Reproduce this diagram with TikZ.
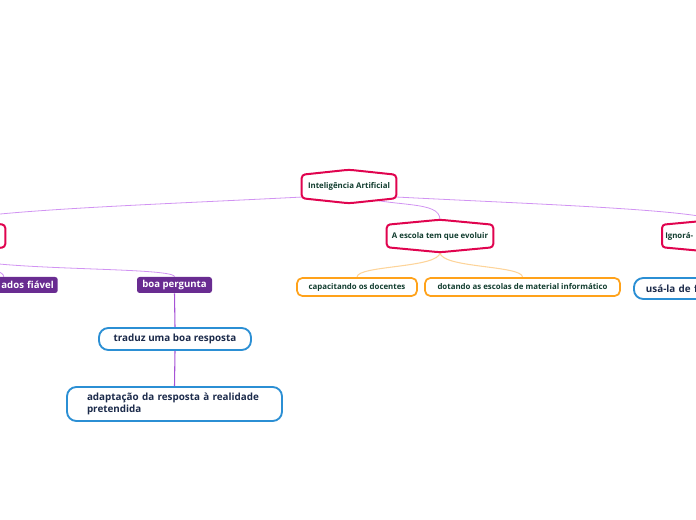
\documentclass[tikz,border=0pt]{standalone}
\usepackage{fontspec}
\setmainfont{Open Sans}
\usetikzlibrary{calc}
\pgfdeclarelayer{lines}
\pgfdeclarelayer{bg}
\pgfsetlayers{lines,bg,main}
\definecolor{hexred}{HTML}{E0044F}
\definecolor{greentext}{HTML}{123D2F}
\definecolor{navytext}{HTML}{1C2B4B}
\definecolor{lav}{HTML}{D193F2}
\definecolor{purp}{HTML}{692C91}
\definecolor{purpline}{HTML}{A653D6}
\definecolor{bluebord}{HTML}{2B8FD4}
\definecolor{orangebord}{HTML}{FFA21A}
\definecolor{orangeline}{HTML}{FDD49A}
\tikzset{
  hexnode/.style={draw=none, inner sep=0pt, text=greentext, font=\fontsize{5.9}{7}\selectfont\bfseries},
  hexline/.style={draw=hexred, fill=white, line width=1.5pt, rounded corners=2.5pt},
  orangebox/.style={draw=orangebord, fill=white, line width=1.3pt, rounded corners=4pt, text=greentext, inner sep=0pt,
     minimum height=13.5pt, font=\fontsize{5.9}{7}\selectfont\bfseries},
  purplebox/.style={fill=purp, rounded corners=2pt, text=white, inner sep=0pt, minimum height=12pt,
     font=\fontsize{7.2}{8.6}\selectfont\bfseries},
  bluebox/.style={draw=bluebord, fill=white, line width=1.4pt, rounded corners=7pt, text=navytext, inner sep=0pt,
     font=\fontsize{7.4}{9.2}\selectfont\bfseries},
  l1/.style={draw=lav, line width=0.6pt},
  l2/.style={draw=purpline, line width=0.8pt},
  lo/.style={draw=orangeline, line width=0.8pt},
}
\begin{document}
\begin{tikzpicture}[x=0.75pt,y=-0.75pt]
\useasboundingbox (0,0) rectangle (696,520);
% hexagon nodes
\node[hexnode, minimum width=70.5pt, minimum height=24.75pt] (root) at (349,186.5) {Inteligência Artificial};
\node[hexnode, minimum width=79.5pt, minimum height=24pt] (escola) at (440,236) {A escola tem que evoluir};
\node[hexnode, anchor=west, text width=76.5pt, align=left, inner xsep=2.25pt, minimum height=24pt] (ignora) at (662,236) {Ignorá-};
\node[hexnode, minimum width=75pt, minimum height=24pt] (lefthex) at (-45,236) {};
% purple nodes
\node[purplebox, anchor=east, text width=75pt, align=right, inner xsep=3pt] (ados) at (58,285) {ados fiável};
\node[purplebox, minimum width=56.25pt] (boa) at (174.5,285) {boa pergunta};
% blue nodes
\node[bluebox, minimum width=114pt, minimum height=16.5pt] (traduz) at (175,339) {traduz uma boa resposta};
\node[bluebox, minimum height=25.5pt, text width=131.25pt, inner xsep=15pt, align=left] (adapta) at (174.5,404)
  {adaptação da resposta à realidade\\pretendida};
\node[bluebox, anchor=west, minimum height=15.75pt, text width=112.5pt, inner xsep=9pt, align=left] (usa) at (633,288.5) {usá-la de f};
% orange nodes
\node[orangebox, minimum width=90pt] (capa) at (357,287) {capacitando os docentes};
\node[orangebox, minimum width=146.25pt] (dota) at (522.5,287) {dotando as escolas de material informático};
% connectors
\begin{pgfonlayer}{lines}
\draw[l1] ($(root.center)+(0,8)$) .. controls (200,203) and (20,208) .. (lefthex.north);
\draw[l1] ($(root.center)+(0,8)$) .. controls (395,208) and (440,200) .. (escola.north);
\draw[l1] ($(root.center)+(0,8)$) .. controls (500,203) and (680,208) .. (ignora.north);
\draw[l1] (lefthex.south) .. controls +(0,20) and +(0,-11) .. (boa.north);
\draw[l1] (lefthex.south) .. controls +(0,14) and +(0,-10) .. (ados.north);
\draw[lo] (escola.south) .. controls +(0,16) and +(0,-12) .. (capa.north);
\draw[lo] (escola.south) .. controls +(0,16) and +(0,-12) .. (dota.north);
\draw[l2] (boa.south) -- (traduz.north);
\draw[l2] (traduz.south) -- (adapta.north);
\draw[l1] (ignora.south) .. controls +(0,14) and +(0,-10) .. (usa.north);
\end{pgfonlayer}
\begin{pgfonlayer}{bg}
\foreach \n in {root,escola,ignora,lefthex}{
  \draw[hexline] ($(\n.north west)+(0,5)$) -- (\n.north) -- ($(\n.north east)+(0,5)$) --
     ($(\n.south east)+(0,-5)$) -- (\n.south) -- ($(\n.south west)+(0,-5)$) -- cycle;
}
\end{pgfonlayer}
\end{tikzpicture}
\end{document}
